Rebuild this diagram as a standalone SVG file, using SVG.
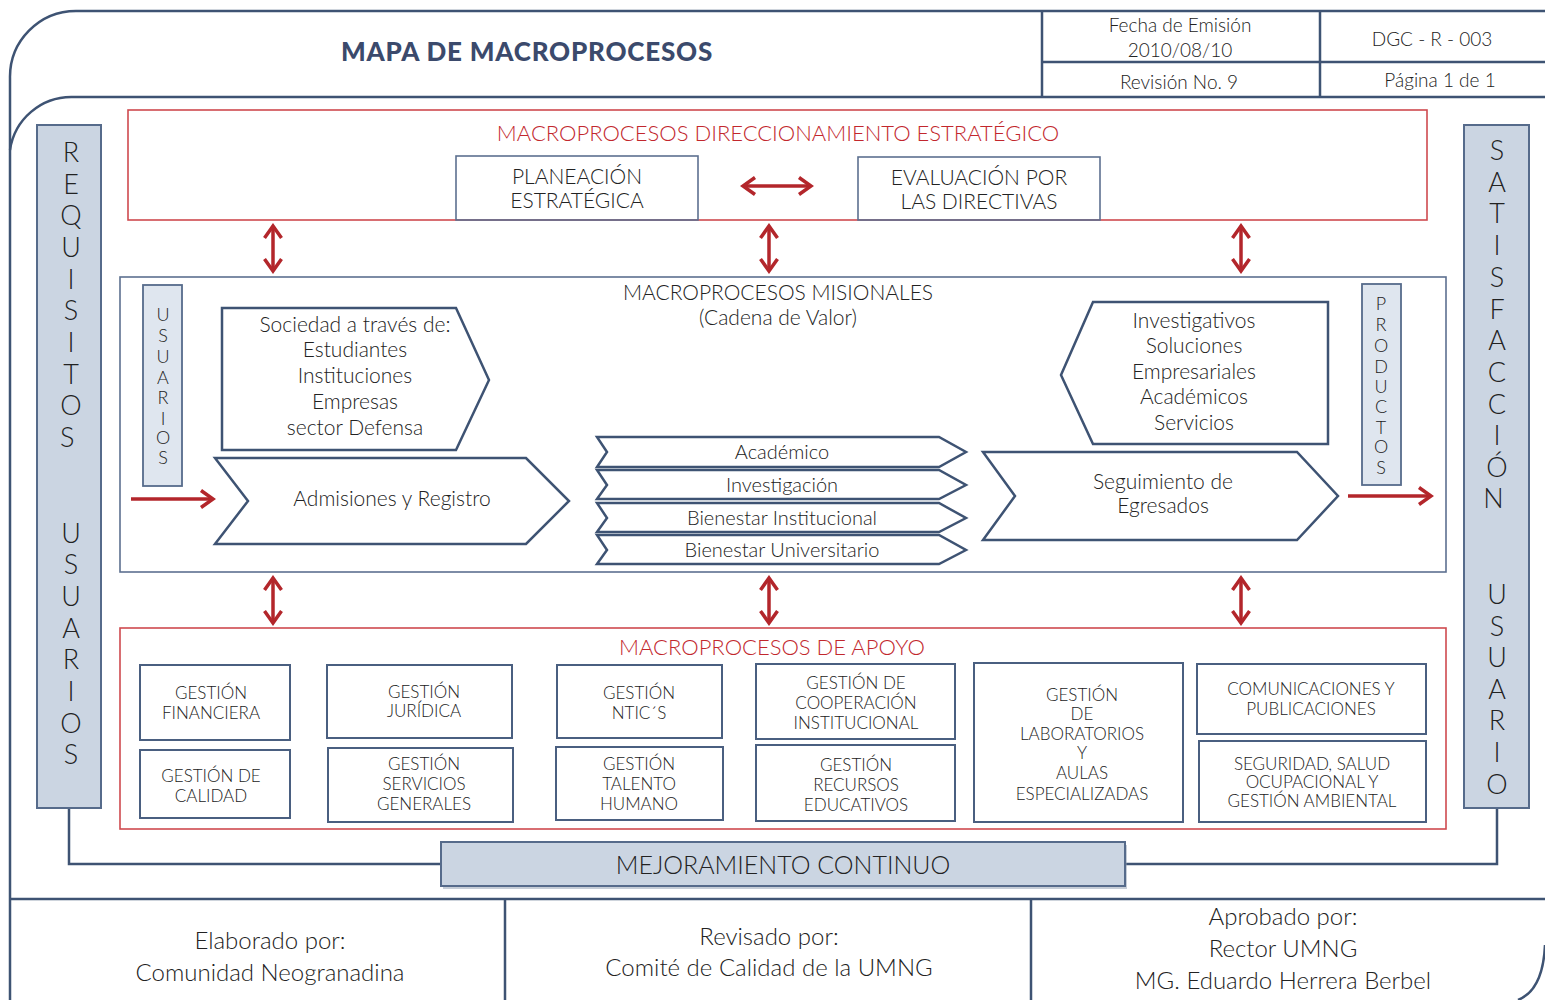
<svg xmlns="http://www.w3.org/2000/svg" width="1545" height="1000" viewBox="0 0 1545 1000">
  <style>
    .frame { fill: none; stroke: #3e5373; stroke-width: 2.5; }
    .thin { fill: none; stroke: #5d7090; stroke-width: 1.6; }
    .box { fill: #ffffff; stroke: #4a5f80; stroke-width: 2; }
    .redbox { fill: none; stroke: #cf4a4f; stroke-width: 1.6; }
    .bar { fill: #cbd5e2; stroke: #566b8b; stroke-width: 2; }
    .minibar { fill: #dfe6ef; stroke: #566b8b; stroke-width: 1.8; }
    .shape { fill: #ffffff; stroke: #3e5373; stroke-width: 2.5; stroke-linejoin: miter; }
    .arr { fill: none; stroke: #b3262b; stroke-width: 3.5; }
    text { font-family: Lato, "Open Sans", "Liberation Sans", sans-serif; font-weight: 300; fill: #222222; text-anchor: middle; }
    .t18 { font-size: 19px; }
    .t20 { font-size: 20px; }
    .t21 { font-size: 21px; }
    .t24 { font-size: 24px; }
    .cap { font-size: 17px; }
    .red { fill: #c2272d; font-size: 22px; }
    .letters { font-size: 27px; }
    .small { font-size: 18px; }
    .title { font-size: 26px; font-weight: 900; fill: #3b4a6c; letter-spacing: 0.8px; }
  </style>
  <defs>
    <marker id="ah" viewBox="0 0 20 20" refX="17" refY="10" markerWidth="20" markerHeight="20" orient="auto-start-reverse" markerUnits="userSpaceOnUse">
      <path d="M5 1.5 L17 10 L5 18.5" fill="none" stroke="#b3262b" stroke-width="3.5"/>
    </marker>
  </defs>

  <rect width="1545" height="1000" fill="#ffffff"/>

  <!-- outer page frame and header -->
  <g id="frame">
    <path class="frame" d="M10 1000 V78 A66 66 0 0 1 76 11 H1545"/>
    <path class="frame" d="M10 150 A62 62 0 0 1 72 97 H1545"/>
    <path class="frame" d="M1042 11 V97 M1320 11 V97 M1042 62 H1545"/>
    <path class="frame" d="M10 899 H1545 M505 899 V1000 M1031 899 V1000"/>
    <path class="frame" d="M1545 945 Q1543 990 1518 1000"/>
  </g>

  <g id="header">
    <text class="title" x="527" y="61">MAPA DE MACROPROCESOS</text>
    <text class="t18" x="1180" y="32">Fecha de Emisión</text>
    <text class="t18" x="1180" y="57">2010/08/10</text>
    <text class="t18" x="1179" y="89">Revisión No. 9</text>
    <text class="t18" x="1432" y="46">DGC - R - 003</text>
    <text class="t18" x="1440" y="87">Página 1 de 1</text>
  </g>

  <!-- connectors -->
  <g id="connectors">
    <path class="frame" d="M69 808 V864 H441"/>
    <path class="frame" d="M1497 808 V864 H1125"/>
    <line class="arr" x1="743" y1="186" x2="811" y2="186" marker-start="url(#ah)" marker-end="url(#ah)"/>
    <line class="arr" x1="273" y1="226" x2="273" y2="271" marker-start="url(#ah)" marker-end="url(#ah)"/>
    <line class="arr" x1="769" y1="226" x2="769" y2="271" marker-start="url(#ah)" marker-end="url(#ah)"/>
    <line class="arr" x1="1241" y1="226" x2="1241" y2="271" marker-start="url(#ah)" marker-end="url(#ah)"/>
    <line class="arr" x1="273" y1="578" x2="273" y2="623" marker-start="url(#ah)" marker-end="url(#ah)"/>
    <line class="arr" x1="769" y1="578" x2="769" y2="623" marker-start="url(#ah)" marker-end="url(#ah)"/>
    <line class="arr" x1="1241" y1="578" x2="1241" y2="623" marker-start="url(#ah)" marker-end="url(#ah)"/>
    <line class="arr" x1="131" y1="499" x2="213" y2="499" marker-end="url(#ah)"/>
    <line class="arr" x1="1348" y1="496" x2="1431" y2="496" marker-end="url(#ah)"/>
  </g>

  <!-- side bars -->
  <g id="requisitos-usuarios">
    <rect class="bar" x="37" y="125" width="64" height="683"/>
    <text class="letters">
      <tspan x="71" y="162">R</tspan><tspan x="71" y="194">E</tspan><tspan x="71" y="225">Q</tspan><tspan x="71" y="257">U</tspan><tspan x="71" y="289">I</tspan><tspan x="71" y="320">S</tspan><tspan x="71" y="352">I</tspan><tspan x="71" y="384">T</tspan><tspan x="71" y="415">O</tspan><tspan x="71" y="447">S</tspan>
      <tspan x="71" y="543">U</tspan><tspan x="71" y="574">S</tspan><tspan x="71" y="606">U</tspan><tspan x="71" y="638">A</tspan><tspan x="71" y="669">R</tspan><tspan x="71" y="701">I</tspan><tspan x="71" y="733">O</tspan><tspan x="71" y="764">S</tspan>
    </text>
  </g>
  <g id="satisfaccion-usuario">
    <rect class="bar" x="1464" y="125" width="65" height="683"/>
    <text class="letters">
      <tspan x="1497" y="160">S</tspan><tspan x="1497" y="192">A</tspan><tspan x="1497" y="223">T</tspan><tspan x="1497" y="255">I</tspan><tspan x="1497" y="287">S</tspan><tspan x="1497" y="319">F</tspan><tspan x="1497" y="350">A</tspan><tspan x="1497" y="382">C</tspan><tspan x="1497" y="414">C</tspan><tspan x="1497" y="445">I</tspan><tspan x="1497" y="477">Ó</tspan><tspan x="1497" y="508">N</tspan>
      <tspan x="1497" y="604">U</tspan><tspan x="1497" y="636">S</tspan><tspan x="1497" y="667">U</tspan><tspan x="1497" y="699">A</tspan><tspan x="1497" y="730">R</tspan><tspan x="1497" y="762">I</tspan><tspan x="1497" y="794">O</tspan>
    </text>
  </g>

  <!-- strategic block -->
  <g id="direccionamiento">
    <rect class="redbox" x="128" y="110" width="1299" height="110"/>
    <text class="red" x="778" y="141">MACROPROCESOS DIRECCIONAMIENTO ESTRATÉGICO</text>
  </g>
  <g id="planeacion">
    <rect class="thin" x="456" y="156" width="242" height="64" fill="#fff"/>
    <text class="t21" x="577" y="184">PLANEACIÓN</text>
    <text class="t21" x="577" y="208">ESTRATÉGICA</text>
  </g>
  <g id="evaluacion">
    <rect class="thin" x="858" y="157" width="242" height="63" fill="#fff"/>
    <text class="t21" x="979" y="185">EVALUACIÓN POR</text>
    <text class="t21" x="979" y="209">LAS DIRECTIVAS</text>
  </g>

  <!-- mission block -->
  <g id="misionales">
    <rect class="thin" x="120" y="277" width="1326" height="295"/>
    <text class="t21" x="778" y="300">MACROPROCESOS MISIONALES</text>
    <text class="t21" x="778" y="325">(Cadena de Valor)</text>
  </g>
  <g id="usuarios">
    <rect class="minibar" x="143" y="285" width="39" height="201"/>
    <text class="small">
      <tspan x="163" y="321">U</tspan><tspan x="163" y="342">S</tspan><tspan x="163" y="363">U</tspan><tspan x="163" y="384">A</tspan><tspan x="163" y="404">R</tspan><tspan x="163" y="425">I</tspan><tspan x="163" y="444">O</tspan><tspan x="163" y="464">S</tspan>
    </text>
  </g>
  <g id="productos">
    <rect class="minibar" x="1362" y="284" width="39" height="201"/>
    <text class="small">
      <tspan x="1381" y="310">P</tspan><tspan x="1381" y="331">R</tspan><tspan x="1381" y="352">O</tspan><tspan x="1381" y="373">D</tspan><tspan x="1381" y="393">U</tspan><tspan x="1381" y="413">C</tspan><tspan x="1381" y="434">T</tspan><tspan x="1381" y="453">O</tspan><tspan x="1381" y="474">S</tspan>
    </text>
  </g>
  <g id="sociedad">
    <path class="shape" d="M222 308 H456 L489 380 L456 450 H222 Z"/>
    <text class="t21" x="355" y="332">Sociedad a través de:</text>
    <text class="t21" x="355" y="357">Estudiantes</text>
    <text class="t21" x="355" y="383">Instituciones</text>
    <text class="t21" x="355" y="409">Empresas</text>
    <text class="t21" x="355" y="435">sector Defensa</text>
  </g>
  <g id="admisiones">
    <path class="shape" d="M215 458 H526 L569 501 L526 544 H215 L248 501 Z"/>
    <text class="t21" x="392" y="506">Admisiones y Registro</text>
  </g>
  <g id="academico">
    <path class="shape" d="M597 437 H939 L966 452 L939 467 H597 L607 452 Z"/>
    <text class="t20" x="782" y="459">Académico</text>
  </g>
  <g id="investigacion">
    <path class="shape" d="M597 470 H939 L966 485 L939 499 H597 L607 485 Z"/>
    <text class="t20" x="782" y="492">Investigación</text>
  </g>
  <g id="bienestar-institucional">
    <path class="shape" d="M597 503 H939 L966 518 L939 532 H597 L607 518 Z"/>
    <text class="t20" x="782" y="525">Bienestar Institucional</text>
  </g>
  <g id="bienestar-universitario">
    <path class="shape" d="M597 535 H939 L966 550 L939 564 H597 L607 550 Z"/>
    <text class="t20" x="782" y="557">Bienestar Universitario</text>
  </g>
  <g id="seguimiento">
    <path class="shape" d="M983 452 H1297 L1338 496 L1297 540 H983 L1015 496 Z"/>
    <text class="t21" x="1163" y="489">Seguimiento de</text>
    <text class="t21" x="1163" y="513">Egresados</text>
  </g>
  <g id="resultados">
    <path class="shape" d="M1093 302 H1328 V444 H1093 L1061 375 Z"/>
    <text class="t21" x="1194" y="328">Investigativos</text>
    <text class="t21" x="1194" y="353">Soluciones</text>
    <text class="t21" x="1194" y="379">Empresariales</text>
    <text class="t21" x="1194" y="404">Académicos</text>
    <text class="t21" x="1194" y="430">Servicios</text>
  </g>

  <!-- support block -->
  <g id="apoyo">
    <rect class="redbox" x="120" y="628" width="1326" height="201"/>
    <text class="red" x="772" y="655">MACROPROCESOS DE APOYO</text>
  </g>
  <g id="financiera">
    <rect class="box" x="140" y="665" width="150" height="75"/>
    <text class="cap" x="211" y="699">GESTIÓN</text>
    <text class="cap" x="211" y="719">FINANCIERA</text>
  </g>
  <g id="calidad">
    <rect class="box" x="140" y="750" width="150" height="68"/>
    <text class="cap" x="211" y="782">GESTIÓN DE</text>
    <text class="cap" x="211" y="802">CALIDAD</text>
  </g>
  <g id="juridica">
    <rect class="box" x="327" y="665" width="185" height="73"/>
    <text class="cap" x="424" y="698">GESTIÓN</text>
    <text class="cap" x="424" y="717">JURÍDICA</text>
  </g>
  <g id="servicios-generales">
    <rect class="box" x="328" y="748" width="185" height="74"/>
    <text class="cap" x="424" y="770">GESTIÓN</text>
    <text class="cap" x="424" y="790">SERVICIOS</text>
    <text class="cap" x="424" y="810">GENERALES</text>
  </g>
  <g id="ntics">
    <rect class="box" x="557" y="665" width="165" height="73"/>
    <text class="cap" x="639" y="699">GESTIÓN</text>
    <text class="cap" x="639" y="719">NTIC´S</text>
  </g>
  <g id="talento-humano">
    <rect class="box" x="556" y="747" width="167" height="73"/>
    <text class="cap" x="639" y="770">GESTIÓN</text>
    <text class="cap" x="639" y="790">TALENTO</text>
    <text class="cap" x="639" y="810">HUMANO</text>
  </g>
  <g id="cooperacion">
    <rect class="box" x="756" y="664" width="199" height="75"/>
    <text class="cap" x="856" y="689">GESTIÓN DE</text>
    <text class="cap" x="856" y="709">COOPERACIÓN</text>
    <text class="cap" x="856" y="729">INSTITUCIONAL</text>
  </g>
  <g id="recursos-educativos">
    <rect class="box" x="756" y="745" width="199" height="76"/>
    <text class="cap" x="856" y="771">GESTIÓN</text>
    <text class="cap" x="856" y="791">RECURSOS</text>
    <text class="cap" x="856" y="811">EDUCATIVOS</text>
  </g>
  <g id="laboratorios">
    <rect class="box" x="974" y="663" width="209" height="159"/>
    <text class="cap" x="1082" y="701">GESTIÓN</text>
    <text class="cap" x="1082" y="720">DE</text>
    <text class="cap" x="1082" y="740">LABORATORIOS</text>
    <text class="cap" x="1082" y="759">Y</text>
    <text class="cap" x="1082" y="779">AULAS</text>
    <text class="cap" x="1082" y="800">ESPECIALIZADAS</text>
  </g>
  <g id="comunicaciones">
    <rect class="box" x="1197" y="664" width="229" height="70"/>
    <text class="cap" x="1311" y="695">COMUNICACIONES Y</text>
    <text class="cap" x="1311" y="715">PUBLICACIONES</text>
  </g>
  <g id="seguridad">
    <rect class="box" x="1199" y="741" width="227" height="81"/>
    <text class="cap" x="1312" y="770">SEGURIDAD, SALUD</text>
    <text class="cap" x="1312" y="788">OCUPACIONAL Y</text>
    <text class="cap" x="1312" y="807">GESTIÓN AMBIENTAL</text>
  </g>

  <!-- continuous improvement -->
  <g id="mejoramiento">
    <rect x="443" y="845" width="684" height="44" fill="#8e9bb0" opacity="0.5"/>
    <rect class="bar" x="441" y="842" width="684" height="44"/>
    <text class="t24" x="783" y="874" style="font-size:25px">MEJORAMIENTO CONTINUO</text>
  </g>

  <!-- footer -->
  <g id="footer">
    <text class="t24" x="270" y="949">Elaborado por:</text>
    <text class="t24" x="270" y="981">Comunidad Neogranadina</text>
    <text class="t24" x="769" y="945">Revisado por:</text>
    <text class="t24" x="769" y="976">Comité de Calidad de la UMNG</text>
    <text class="t24" x="1283" y="925">Aprobado por:</text>
    <text class="t24" x="1283" y="957">Rector UMNG</text>
    <text class="t24" x="1283" y="989">MG. Eduardo Herrera Berbel</text>
  </g>
</svg>
